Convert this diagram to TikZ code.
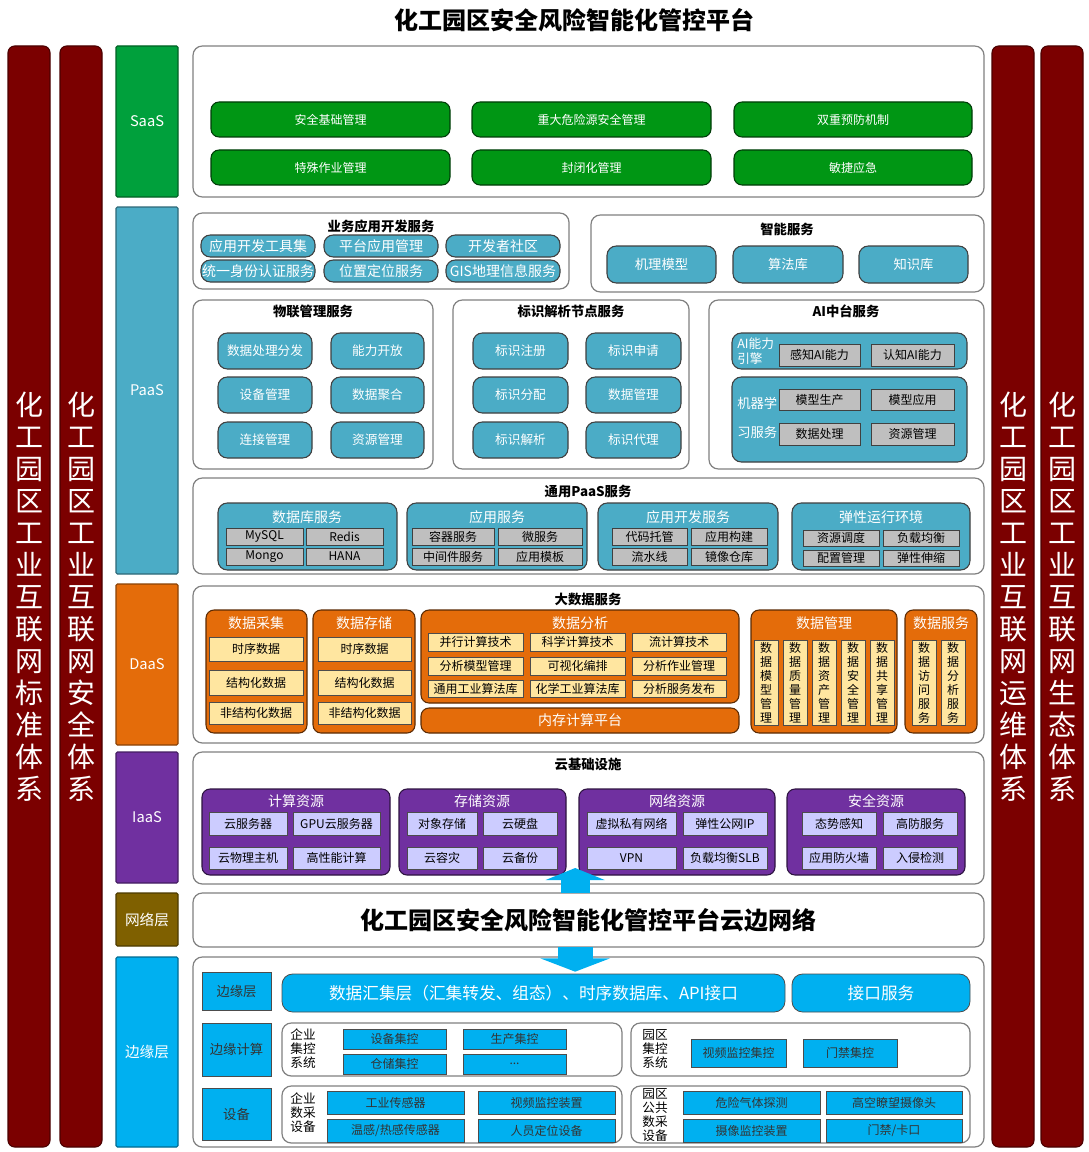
\documentclass[tikz,border=0pt]{standalone}
\usepackage{fontspec}
\setmainfont{Noto Sans CJK SC}
\usepackage{tikz}
\usetikzlibrary{arrows.meta}

\definecolor{barred}{RGB}{123,0,0}
\definecolor{saasgreen}{RGB}{0,150,20}
\definecolor{saaslayer}{RGB}{0,160,60}
\definecolor{paasblue}{RGB}{75,172,198}
\definecolor{daasorange}{RGB}{228,108,10}
\definecolor{iaaspurple}{RGB}{112,48,160}
\definecolor{netbrown}{RGB}{127,96,0}
\definecolor{edgeblue}{RGB}{0,176,240}
\definecolor{cream}{RGB}{255,230,160}
\definecolor{lavender}{RGB}{204,204,255}
\definecolor{boxgray}{RGB}{191,191,191}

% box from its corners, in pixels of the reference
\newcommand\boxat[7][]{%
  \pgfmathsetmacro\bxw{(#5-#3)*0.75}%
  \pgfmathsetmacro\bxh{(#6-#4)*0.75}%
  \node[inner sep=0pt, outer sep=0pt, minimum width=\bxw pt, minimum height=\bxh pt, #1] (#2) at ({(#3+#5)/2},{(#4+#6)/2}) {#7};}

\begin{document}
\begin{tikzpicture}[x=0.75pt, y=-0.75pt,
  panel/.style={draw=black!50, fill=white, rounded corners=7pt, line width=0.9pt},
  ptitle/.style={font=\bfseries\fontsize{10}{12}\selectfont},
  layer/.style={text=white, rounded corners=1pt, line width=0.8pt, font=\fontsize{11}{13}\selectfont},
  sidebar/.style={fill=barred, draw=barred!60!black, rounded corners=5pt, line width=0.8pt, text=white, align=center, font=\fontsize{21}{24}\selectfont},
  sbtn/.style={fill=saasgreen, draw=saasgreen!40!black, rounded corners=6pt, line width=0.8pt, text=white, font=\fontsize{9}{11}\selectfont},
  pbtn/.style={fill=paasblue, draw=black!75, rounded corners=7pt, line width=0.8pt, text=white, font=\fontsize{9.5}{11}\selectfont},
  pgrp/.style={fill=paasblue, draw=black!75, rounded corners=7pt, line width=0.8pt},
  gtitle/.style={text=white, font=\fontsize{10.5}{12}\selectfont},
  gbox/.style={fill=boxgray, draw=black!75, line width=0.6pt, font=\fontsize{9}{11}\selectfont},
  ogrp/.style={fill=daasorange, draw=daasorange!40!black, rounded corners=6pt, line width=0.8pt},
  obox/.style={fill=cream, draw=black!70, line width=0.6pt, font=\fontsize{9}{11}\selectfont},
  vtxt/.style={obox, align=center, font=\fontsize{9}{10.5}\selectfont},
  vgrp/.style={fill=iaaspurple, draw=iaaspurple!40!black, rounded corners=6pt, line width=0.8pt},
  vbox/.style={fill=lavender, draw=black!70, line width=0.6pt, font=\fontsize{9}{11}\selectfont},
  ebox/.style={fill=edgeblue, draw=black!70, line width=0.6pt, text=black!80, font=\fontsize{9}{11}\selectfont},
  elabel/.style={align=left, font=\fontsize{9.5}{10.5}\selectfont},
  bigarr/.style={draw=edgeblue, line width=22pt, -{Triangle[length=9pt, width=44pt]}}
]
\fill[white] (0,0) rectangle (1088,1152);
\useasboundingbox (0,0) rectangle (1088,1152);

\node[font=\bfseries\fontsize{18}{20}\selectfont] (title) at (574,20) {化工园区安全风险智能化管控平台};

% side bars
\boxat[sidebar]{stdbar}{8}{46}{50}{1147}{化\\工\\园\\区\\工\\业\\互\\联\\网\\标\\准\\体\\系}
\boxat[sidebar]{secbar}{60}{46}{102}{1147}{化\\工\\园\\区\\工\\业\\互\\联\\网\\安\\全\\体\\系}
\boxat[sidebar]{opsbar}{992}{46}{1034}{1147}{化\\工\\园\\区\\工\\业\\互\\联\\网\\运\\维\\体\\系}
\boxat[sidebar]{ecobar}{1041}{46}{1083}{1147}{化\\工\\园\\区\\工\\业\\互\\联\\网\\生\\态\\体\\系}

% layer labels
\boxat[layer, fill=saaslayer, draw=saaslayer!60!black]{saasL}{116}{46}{178}{197}{SaaS}
\boxat[layer, fill=paasblue, draw=paasblue!60!black]{paasL}{116}{207}{178}{574}{PaaS}
\boxat[layer, fill=daasorange, draw=daasorange!60!black]{daasL}{116}{584}{178}{745}{DaaS}
\boxat[layer, fill=iaaspurple, draw=iaaspurple!60!black]{iaasL}{116}{752}{178}{883}{IaaS}
\boxat[layer, fill=netbrown, draw=netbrown!60!black]{netL}{116}{893}{178}{946}{网络层}
\boxat[layer, fill=edgeblue, draw=edgeblue!60!black]{edgeL}{116}{957}{178}{1147}{边缘层}

% SaaS
\boxat[panel]{saasP}{193}{46}{984}{197}{}
\boxat[sbtn]{safebase}{211}{102}{450}{137}{安全基础管理}
\boxat[sbtn]{hazard}{472}{102}{711}{137}{重大危险源安全管理}
\boxat[sbtn]{dualprev}{734}{102}{972}{137}{双重预防机制}
\boxat[sbtn]{specwork}{211}{150}{450}{185}{特殊作业管理}
\boxat[sbtn]{closed}{472}{150}{711}{185}{封闭化管理}
\boxat[sbtn]{emerg}{734}{150}{972}{185}{敏捷应急}

% PaaS: business apps
\boxat[panel]{bizP}{193}{213}{569}{289}{}
\node[ptitle] (bizT) at (381,226) {业务应用开发服务};
\boxat[pbtn, font=\fontsize{10.5}{12}\selectfont]{devtool}{201}{235}{315}{257}{应用开发工具集}
\boxat[pbtn, font=\fontsize{10.5}{12}\selectfont]{platapp}{324}{235}{438}{257}{平台应用管理}
\boxat[pbtn, font=\fontsize{10.5}{12}\selectfont]{devcomm}{446}{235}{560}{257}{开发者社区}
\boxat[pbtn, font=\fontsize{10.5}{12}\selectfont]{identity}{201}{260}{315}{282}{统一身份认证服务}
\boxat[pbtn, font=\fontsize{10.5}{12}\selectfont]{locate}{324}{260}{438}{282}{位置定位服务}
\boxat[pbtn, font=\fontsize{10.5}{12}\selectfont]{gis}{446}{260}{560}{282}{GIS地理信息服务}

% PaaS: smart services
\boxat[panel]{smartP}{591}{215}{984}{292}{}
\node[ptitle] (smartT) at (787,229) {智能服务};
\boxat[pbtn, font=\fontsize{10}{12}\selectfont]{mechmodel}{607}{246}{716}{283}{机理模型}
\boxat[pbtn, font=\fontsize{10}{12}\selectfont]{algolib}{733}{246}{843}{283}{算法库}
\boxat[pbtn, font=\fontsize{10}{12}\selectfont]{knowlib}{859}{246}{968}{283}{知识库}

% PaaS: IoT management
\boxat[panel]{iotP}{193}{300}{433}{469}{}
\node[ptitle] (iotT) at (313,311) {物联管理服务};
\boxat[pbtn]{dataproc}{218}{333}{312}{369}{数据处理分发}
\boxat[pbtn]{capopen}{331}{333}{424}{369}{能力开放}
\boxat[pbtn]{devmgmt}{218}{377}{312}{413}{设备管理}
\boxat[pbtn]{dataagg}{331}{377}{424}{413}{数据聚合}
\boxat[pbtn]{connmgmt}{218}{422}{312}{458}{连接管理}
\boxat[pbtn]{resmgmt}{331}{422}{424}{458}{资源管理}

% PaaS: identifier resolution
\boxat[panel]{idP}{453}{300}{689}{469}{}
\node[ptitle] (idT) at (571,311) {标识解析节点服务};
\boxat[pbtn]{idreg}{473}{333}{568}{369}{标识注册}
\boxat[pbtn]{idapply}{586}{333}{681}{369}{标识申请}
\boxat[pbtn]{idalloc}{473}{377}{568}{413}{标识分配}
\boxat[pbtn]{iddata}{586}{377}{681}{413}{数据管理}
\boxat[pbtn]{idresolve}{473}{422}{568}{458}{标识解析}
\boxat[pbtn]{idproxy}{586}{422}{681}{458}{标识代理}

% PaaS: AI platform
\boxat[panel]{aiP}{709}{300}{984}{469}{}
\node[ptitle] (aiT) at (846,311) {AI中台服务};
\boxat[pgrp]{aiengine}{732}{333}{967}{369}{}
\node[elabel, text=white, anchor=west, inner sep=0pt, font=\fontsize{9.5}{11}\selectfont] (aiengineT) at (737,351) {AI能力\\引擎};
\boxat[gbox]{sense}{779}{344}{860}{366}{感知AI能力}
\boxat[gbox]{cognit}{871}{344}{954}{366}{认知AI能力}
\boxat[pgrp]{mlsvc}{732}{377}{967}{462}{}
\node[elabel, text=white, anchor=west, inner sep=0pt, font=\fontsize{10}{22}\selectfont] (mlsvcT) at (737,418) {机器学\\习服务};
\boxat[gbox]{modelprod}{779}{389}{860}{410}{模型生产}
\boxat[gbox]{modelapp}{871}{389}{954}{410}{模型应用}
\boxat[gbox]{mldata}{779}{423}{860}{445}{数据处理}
\boxat[gbox]{mlres}{871}{423}{954}{445}{资源管理}

% PaaS: general services
\boxat[panel]{genP}{193}{478}{984}{574}{}
\node[ptitle] (genT) at (588,491) {通用PaaS服务};
\boxat[pgrp]{dbG}{218}{503}{397}{570}{}
\node[gtitle] (dbT) at (307,517) {数据库服务};
\boxat[gbox]{mysql}{226}{528}{303}{545}{MySQL}
\boxat[gbox]{redis}{306}{528}{383}{545}{Redis}
\boxat[gbox]{mongo}{226}{548}{303}{565}{Mongo}
\boxat[gbox]{hana}{306}{548}{383}{565}{HANA}
\boxat[pgrp]{appG}{407}{503}{587}{570}{}
\node[gtitle] (appT) at (497,517) {应用服务};
\boxat[gbox]{container}{412}{528}{494}{545}{容器服务}
\boxat[gbox]{micro}{498}{528}{582}{545}{微服务}
\boxat[gbox]{middle}{412}{548}{494}{565}{中间件服务}
\boxat[gbox]{apptpl}{498}{548}{582}{565}{应用模板}
\boxat[pgrp]{devG}{598}{503}{778}{570}{}
\node[gtitle] (devT) at (688,517) {应用开发服务};
\boxat[gbox]{codehost}{612}{528}{687}{545}{代码托管}
\boxat[gbox]{appbuild}{691}{528}{767}{545}{应用构建}
\boxat[gbox]{pipeline}{612}{548}{687}{565}{流水线}
\boxat[gbox]{imgrepo}{691}{548}{767}{565}{镜像仓库}
\boxat[pgrp]{elaG}{792}{503}{970}{570}{}
\node[gtitle] (elaT) at (881,517) {弹性运行环境};
\boxat[gbox]{schedule}{803}{530}{879}{546}{资源调度}
\boxat[gbox]{loadbal}{883}{530}{959}{546}{负载均衡}
\boxat[gbox]{config}{803}{550}{879}{566}{配置管理}
\boxat[gbox]{scaling}{883}{550}{959}{566}{弹性伸缩}

% DaaS
\boxat[panel]{bigP}{193}{586}{984}{743}{}
\node[ptitle] (bigT) at (588,599) {大数据服务};
\boxat[ogrp]{collectG}{206}{610}{307}{733}{}
\node[gtitle] (collectT) at (256,623) {数据采集};
\boxat[obox]{colts}{209}{637}{303}{661}{时序数据}
\boxat[obox]{colstruct}{209}{670}{303}{695}{结构化数据}
\boxat[obox]{colunstruct}{209}{702}{303}{724}{非结构化数据}
\boxat[ogrp]{storeG}{313}{610}{415}{733}{}
\node[gtitle] (storeT) at (364,623) {数据存储};
\boxat[obox]{stots}{318}{637}{411}{661}{时序数据}
\boxat[obox]{stostruct}{318}{670}{411}{695}{结构化数据}
\boxat[obox]{stounstruct}{318}{702}{411}{724}{非结构化数据}
\boxat[ogrp]{analysisG}{421}{610}{739}{703}{}
\node[gtitle] (analysisT) at (580,623) {数据分析};
\boxat[obox]{parallel}{428}{633}{523}{651}{并行计算技术}
\boxat[obox]{scicomp}{530}{633}{625}{651}{科学计算技术}
\boxat[obox]{streamcomp}{632}{633}{726}{651}{流计算技术}
\boxat[obox]{anamodel}{428}{657}{523}{675}{分析模型管理}
\boxat[obox]{visual}{530}{657}{625}{675}{可视化编排}
\boxat[obox]{anajob}{632}{657}{726}{675}{分析作业管理}
\boxat[obox]{indalgo}{428}{680}{523}{697}{通用工业算法库}
\boxat[obox]{chemalgo}{530}{680}{625}{697}{化学工业算法库}
\boxat[obox]{anapub}{632}{680}{726}{697}{分析服务发布}
\boxat[ogrp, text=white, font=\fontsize{10.5}{12}\selectfont]{memcomp}{421}{708}{739}{733}{内存计算平台}
\boxat[ogrp]{dmgmtG}{751}{610}{897}{733}{}
\node[gtitle] (dmgmtT) at (824,623) {数据管理};
\boxat[vtxt]{dmodel}{754}{640}{778}{725}{数\\据\\模\\型\\管\\理}
\boxat[vtxt]{dquality}{783}{640}{807}{725}{数\\据\\质\\量\\管\\理}
\boxat[vtxt]{dasset}{812}{640}{836}{725}{数\\据\\资\\产\\管\\理}
\boxat[vtxt]{dsecure}{841}{640}{865}{725}{数\\据\\安\\全\\管\\理}
\boxat[vtxt]{dshare}{870}{640}{894}{725}{数\\据\\共\\享\\管\\理}
\boxat[ogrp]{dsvcG}{905}{610}{977}{733}{}
\node[gtitle] (dsvcT) at (941,623) {数据服务};
\boxat[vtxt]{daccess}{912}{640}{936}{725}{数\\据\\访\\问\\服\\务}
\boxat[vtxt]{danalysis}{941}{640}{965}{725}{数\\据\\分\\析\\服\\务}

% IaaS
\boxat[panel]{cloudP}{193}{752}{984}{884}{}
\node[ptitle] (cloudT) at (588,764) {云基础设施};
\boxat[vgrp]{compG}{202}{789}{390}{875}{}
\node[gtitle] (compT) at (296,801) {计算资源};
\boxat[vbox]{cloudsrv}{209}{812}{287}{835}{云服务器}
\boxat[vbox]{gpusrv}{293}{812}{380}{835}{GPU云服务器}
\boxat[vbox]{baremetal}{209}{847}{287}{869}{云物理主机}
\boxat[vbox]{hpc}{293}{847}{380}{869}{高性能计算}
\boxat[vgrp]{storG}{399}{789}{566}{875}{}
\node[gtitle] (storT) at (482,801) {存储资源};
\boxat[vbox]{objstore}{407}{812}{477}{835}{对象存储}
\boxat[vbox]{clouddisk}{483}{812}{557}{835}{云硬盘}
\boxat[vbox]{disaster}{407}{847}{477}{869}{云容灾}
\boxat[vbox]{backup}{483}{847}{557}{869}{云备份}
\boxat[vgrp]{netrG}{579}{789}{775}{875}{}
\node[gtitle] (netrT) at (677,801) {网络资源};
\boxat[vbox]{vpc}{587}{812}{676}{835}{虚拟私有网络}
\boxat[vbox]{eip}{683}{812}{767}{835}{弹性公网IP}
\boxat[vbox]{vpn}{587}{847}{676}{869}{VPN}
\boxat[vbox]{slb}{683}{847}{767}{869}{负载均衡SLB}
\boxat[vgrp]{secG}{787}{789}{965}{875}{}
\node[gtitle] (secT) at (876,801) {安全资源};
\boxat[vbox]{situation}{802}{812}{876}{835}{态势感知}
\boxat[vbox]{antiddos}{883}{812}{957}{835}{高防服务}
\boxat[vbox]{waf}{802}{847}{876}{869}{应用防火墙}
\boxat[vbox]{ids}{883}{847}{957}{869}{入侵检测}

% network layer
\boxat[panel, font=\bfseries\fontsize{18}{20}\selectfont]{netP}{193}{893}{984}{947}{化工园区安全风险智能化管控平台云边网络}

% edge layer
\boxat[panel]{edgeP}{193}{957}{984}{1147}{}
\boxat[ebox, font=\fontsize{10}{12}\selectfont]{edgeT}{202}{972}{271}{1010}{边缘层}
\boxat[ebox, font=\fontsize{10}{12}\selectfont]{edgecompT}{202}{1023}{271}{1076}{边缘计算}
\boxat[ebox, font=\fontsize{10}{12}\selectfont]{deviceT}{202}{1088}{271}{1140}{设备}
\boxat[ebox, rounded corners=8pt, text=white, font=\fontsize{12.5}{14}\selectfont]{gather}{282}{974}{785}{1012}{数据汇集层（汇集转发、组态）、时序数据库、API接口}
\boxat[ebox, rounded corners=8pt, text=white, font=\fontsize{12.5}{14}\selectfont]{apisvc}{792}{974}{970}{1012}{接口服务}

\boxat[panel]{entctlP}{282}{1023}{622}{1076}{}
\node[elabel] (entctlT) at (303,1049) {企业\\集控\\系统};
\boxat[ebox]{devctl}{343}{1029}{446}{1049}{设备集控}
\boxat[ebox]{prodctl}{463}{1029}{566}{1049}{生产集控}
\boxat[ebox]{storctl}{343}{1054}{446}{1074}{仓储集控}
\boxat[ebox]{morectl}{463}{1054}{566}{1074}{...}
\boxat[panel]{parkctlP}{631}{1023}{970}{1076}{}
\node[elabel] (parkctlT) at (655,1049) {园区\\集控\\系统};
\boxat[ebox]{videoctl}{691}{1039}{786}{1067}{视频监控集控}
\boxat[ebox]{gatectl}{803}{1039}{897}{1067}{门禁集控}

\boxat[panel]{entdevP}{282}{1086}{622}{1143}{}
\node[elabel] (entdevT) at (303,1113) {企业\\数采\\设备};
\boxat[ebox]{indsensor}{327}{1091}{464}{1114}{工业传感器}
\boxat[ebox]{videodev}{478}{1091}{615}{1114}{视频监控装置}
\boxat[ebox]{heatsensor}{327}{1119}{464}{1142}{温感/热感传感器}
\boxat[ebox]{staffloc}{478}{1119}{615}{1142}{人员定位设备}
\boxat[panel]{parkdevP}{631}{1086}{970}{1143}{}
\node[elabel] (parkdevT) at (655,1115) {园区\\公共\\数采\\设备};
\boxat[ebox]{gasdetect}{683}{1091}{820}{1114}{危险气体探测}
\boxat[ebox]{highcam}{826}{1091}{962}{1114}{高空瞭望摄像头}
\boxat[ebox]{camdev}{683}{1119}{820}{1142}{摄像监控装置}
\boxat[ebox]{gatecard}{826}{1119}{962}{1142}{门禁/卡口}

% arrows between network layer and neighbours
\draw[bigarr, shorten >=-12pt] ([xshift=-10pt]netP.north) -- ([xshift=-10pt]cloudP.south);
\draw[bigarr, line width=26pt, -{Triangle[length=10pt, width=52pt]}, shorten >=-11pt] ([xshift=-10pt]netP.south) -- ([xshift=-10pt]edgeP.north);
\end{tikzpicture}
\end{document}
